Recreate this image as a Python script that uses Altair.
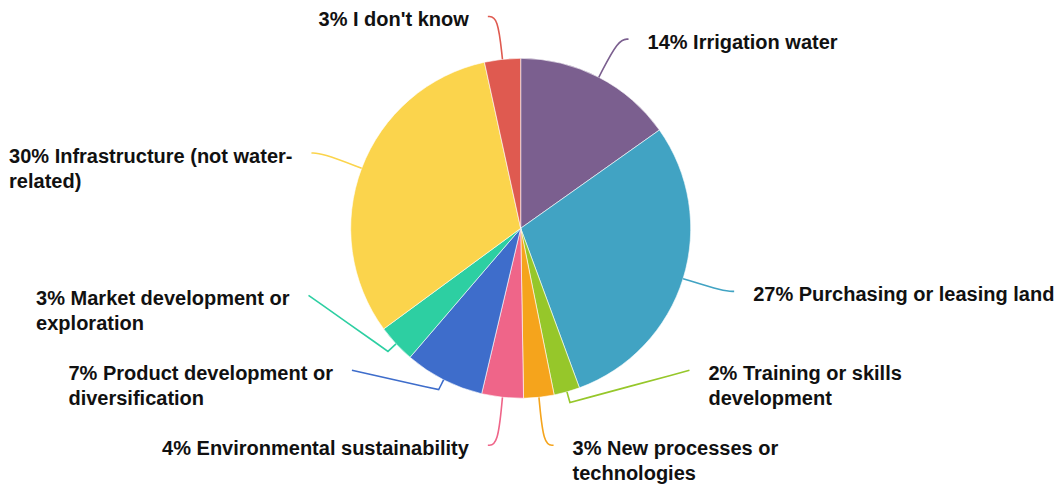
import math
import altair as alt
import pandas as pd

# ---------------- data ----------------
categories = [
    "Irrigation water",
    "Purchasing or leasing land",
    "Training or skills development",
    "New processes or technologies",
    "Environmental sustainability",
    "Product development or diversification",
    "Market development or exploration",
    "Infrastructure (not water-related)",
    "I don't know",
]
values = [14.2, 27.3, 2.3, 2.7, 3.7, 7.1, 3.4, 29.6, 3.2]
label_lines = [
    ["Irrigation water"],
    ["Purchasing or leasing land"],
    ["Training or skills", "development"],
    ["New processes or", "technologies"],
    ["Environmental sustainability"],
    ["Product development or", "diversification"],
    ["Market development or", "exploration"],
    ["Infrastructure (not water-", "related)"],
    ["I don't know"],
]
colors = ["#7b5f8f", "#41a3c3", "#96c72a", "#f5a41c", "#ef6589",
          "#3e6dcb", "#2dcfa2", "#fbd44c", "#df5a50"]

# ---------------- layout constants ----------------
W, H = 1046, 483
CX, CY = 512.7, 220.3
R = 170          # pie radius
RA = 213         # label-line elbow radius
R_SHORT = 181    # elbow radius when label is displaced
LEN2 = 10        # horizontal hook
TEXT_GAP = 19
FS = 20
LH = 25
FONT = "Liberation Sans"

# Helvetica/Arial bold advance widths (per 1000 em) for text width estimation
HB = {' ': 278, '!': 333, "'": 238, '(': 333, ')': 333, ',': 278, '-': 333, '.': 278,
      '%': 889, ':': 333}
for ch in "0123456789":
    HB[ch] = 556
HB.update(dict(zip("ABCDEFGHIJKLMNOPQRSTUVWXYZ",
                   [722, 722, 722, 722, 667, 611, 778, 722, 278, 556, 722, 611, 833,
                    722, 778, 667, 778, 722, 667, 611, 722, 667, 944, 667, 667, 611])))
HB.update(dict(zip("abcdefghijklmnopqrstuvwxyz",
                   [556, 611, 556, 611, 556, 333, 611, 611, 278, 278, 556, 278, 889,
                    611, 611, 611, 611, 389, 556, 333, 611, 556, 778, 556, 556, 500])))


def text_width(s):
    return sum(HB.get(ch, 556) for ch in s) * FS / 1000.0


total = sum(values)
items = []
cum = 0.0
for i, (cat, v, lines) in enumerate(zip(categories, values, label_lines)):
    a0 = cum / total * 2 * math.pi
    cum += v
    a1 = cum / total * 2 * math.pi
    mid = (a0 + a1) / 2
    s, c = math.sin(mid), math.cos(mid)
    side = 1 if s >= 0 else -1
    y0 = CY - RA * c
    txt_lines = [f"{round(v)}% {lines[0]}"] + lines[1:]
    items.append(dict(i=i, cat=cat, s=s, c=c, side=side, y0=y0, y=y0,
                      n=len(txt_lines), lines=txt_lines))

YMAX = CY + RA + 4


def gap(it):
    return it["n"] * LH + 25


for side in (1, -1):
    grp = sorted([it for it in items if it["side"] == side], key=lambda d: d["y"])
    for k in range(1, len(grp)):
        grp[k]["y"] = max(grp[k]["y"], grp[k - 1]["y"] + gap(grp[k - 1]))
    grp[-1]["y"] = min(grp[-1]["y"], YMAX)
    for k in range(len(grp) - 2, -1, -1):
        grp[k]["y"] = min(grp[k]["y"], grp[k + 1]["y"] - gap(grp[k]))

line_rows = []
text_rows = []
for it in items:
    s, c, side, y = it["s"], it["c"], it["side"], it["y"]
    p0 = (CX + R * s, CY - R * c)
    shifted = abs(y - it["y0"]) > 8
    if shifted:
        dy = y - CY
        x1 = CX + side * math.sqrt(max(RA * RA - dy * dy, 0))
    else:
        x1 = CX + RA * s
    p1 = (x1, y)
    p2 = (x1 + side * LEN2, y)
    if shifted:
        pa = (CX + R_SHORT * s, CY - R_SHORT * c)
        pts = [p0, pa, pa, pa, p2]
    else:
        pts = [p0, p1, p2]
    for k, (px, py) in enumerate(pts):
        line_rows.append(dict(category=it["cat"], k=k, px=px, py=py))
    if side > 0:
        tx = p2[0] + TEXT_GAP
    else:
        tx = p2[0] - TEXT_GAP - max(text_width(l) for l in it["lines"])
    text_rows.append(dict(category=it["cat"], tx=tx, ty=y + 9.5,
                          label="\n".join(it["lines"])))

df_arc = pd.DataFrame({"category": categories, "value": values,
                       "idx": list(range(len(categories)))})
df_line = pd.DataFrame(line_rows)
df_text = pd.DataFrame(text_rows)

color_scale = alt.Scale(domain=categories, range=colors)
xs = alt.Scale(domain=[0, W], range=[0, W], nice=False, zero=False)
ys = alt.Scale(domain=[0, H], range=[0, H], nice=False, zero=False)

arc = alt.Chart(df_arc).mark_arc(radius=R, stroke="#ffffff", strokeWidth=0.6).encode(
    theta=alt.Theta("value:Q", stack=True),
    order=alt.Order("idx:Q"),
    color=alt.Color("category:N", scale=color_scale, legend=None),
    x=alt.value(CX),
    y=alt.value(CY),
)

leader = alt.Chart(df_line).mark_line(interpolate="basis", strokeWidth=1.6).encode(
    x=alt.X("px:Q", scale=xs, axis=None),
    y=alt.Y("py:Q", scale=ys, axis=None),
    color=alt.Color("category:N", scale=color_scale, legend=None),
    detail="category:N",
    order="k:Q",
)

labels = alt.Chart(df_text).mark_text(
    align="left", baseline="alphabetic", font=FONT, fontSize=FS, fontWeight="bold",
    color="#111111", lineBreak="\n", lineHeight=LH,
).encode(
    x=alt.X("tx:Q", scale=xs, axis=None),
    y=alt.Y("ty:Q", scale=ys, axis=None),
    text="label:N",
)

chart = alt.layer(arc, leader, labels).properties(
    width=W, height=H, padding=0, autosize="none", background="#ffffff"
).configure_view(stroke=None)

chart.save("out.html", embed_options={"renderer": "svg", "actions": False})
